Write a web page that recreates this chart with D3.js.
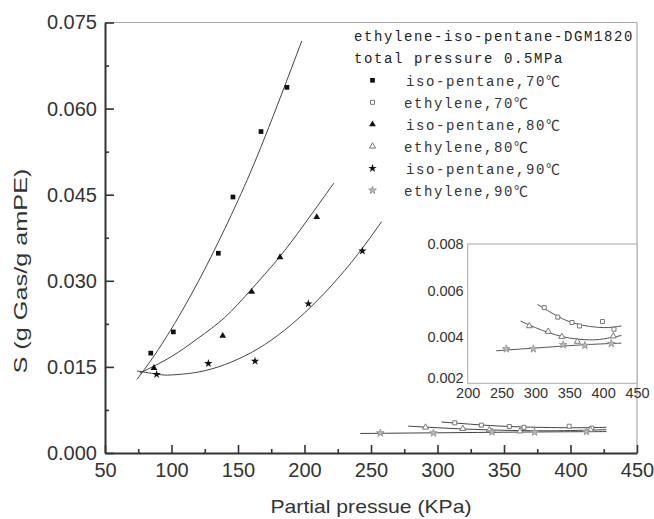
<!DOCTYPE html>
<html>
<head>
<meta charset="utf-8">
<script src="https://cdn.jsdelivr.net/npm/d3@7"></script>
<style>
  body { margin: 0; background: #fff; }
  svg { display: block; }
</style>
</head>
<body>
<svg id="chart" width="654" height="519"></svg>
<script>
// axis ticks
const xTicks = [50, 100, 150, 200, 250, 300, 350, 400, 450];
const xMinorTicks = [75, 125, 175, 225, 275, 325, 375, 425];
const yTicks = [0, 0.015, 0.030, 0.045, 0.060, 0.075];
const yMinorTicks = [0.0075, 0.0225, 0.0375, 0.0525, 0.0675];
const insetXTicks = [200, 250, 300, 350, 400, 450];
const insetYTicks = [0.002, 0.004, 0.006, 0.008];

// measured solubility [partial pressure KPa, S]
const isoPentane70 = [[84.4, 0.0174], [101.4, 0.0211], [135.2, 0.0348], [146.2, 0.0446], [167.3, 0.0560], [186.8, 0.0637]];
const isoPentane80 = [[86.8, 0.0148], [138.5, 0.0204], [160.3, 0.0281], [181.6, 0.0341], [209.2, 0.0411]];
const isoPentane90 = [[88.8, 0.0137], [127.7, 0.0156], [162.8, 0.0160], [202.9, 0.0260], [243.5, 0.0352]];
const ethylene70 = [[313, 0.00526], [333, 0.00485], [354, 0.00462], [365, 0.00447], [399, 0.00466], [416, 0.00433]];
const ethylene80 = [[291, 0.00447], [319, 0.00423], [339, 0.00401], [362, 0.00380], [415, 0.00403]];
const ethylene90 = [[257, 0.00348], [297, 0.00348], [341, 0.00366], [373, 0.00363], [412, 0.00371]];

// fitted trend lines
const fitIso70 = [[74, 0.0128], [90, 0.0180], [110, 0.0256], [130, 0.0343], [150, 0.0440], [170, 0.0549], [198, 0.0718]];
const fitIso80 = [[76, 0.0139], [100, 0.0168], [120, 0.0200], [140, 0.0236], [160, 0.0285], [180, 0.0338], [200, 0.0399], [222, 0.0470]];
const fitIso90 = [[74, 0.0143], [90, 0.0137], [100, 0.0136], [120, 0.0141], [140, 0.0154], [160, 0.0175], [180, 0.0205], [200, 0.0244], [220, 0.0291], [240, 0.0346], [258, 0.0403]];
const fitEth70 = [[303, 0.00540], [320, 0.00510], [340, 0.00478], [360, 0.00457], [380, 0.00445], [400, 0.00440], [415, 0.00442], [427, 0.00447]];
const fitEth80 = [[278, 0.00468], [300, 0.00440], [320, 0.00418], [340, 0.00401], [360, 0.00391], [380, 0.00387], [400, 0.00391], [427, 0.00406]];
const fitEth90 = [[242, 0.00340], [280, 0.00348], [320, 0.00356], [360, 0.00364], [400, 0.00370], [427, 0.00373]];

// legend
const legendTitle = ["ethylene-iso-pentane-DGM1820", "total pressure 0.5MPa"];
const legendLabels = ["iso-pentane,70℃", "ethylene,70℃", "iso-pentane,80℃", "ethylene,80℃", "iso-pentane,90℃", "ethylene,90℃"];

const svg = d3.select("#chart");
const x = d3.scaleLinear([50, 450], [105, 637]);
const y = d3.scaleLinear([0, 0.075], [453, 22.5]);
const ix = d3.scaleLinear([200, 450], [467.7, 637]);
const iy = d3.scaleLinear([0.002, 0.008], [383.3, 244]);

const sansFont = "'Liberation Sans', Arial, sans-serif";
const monoFont = "'Liberation Mono', 'DejaVu Sans Mono', 'Noto Sans CJK SC', monospace";

// marker styles per series
const styles = [
  { type: d3.symbolSquare, size: 22, fill: "#111", stroke: "none" },
  { type: d3.symbolSquare, size: 16, fill: "#fff", stroke: "#777" },
  { type: d3.symbolTriangle, size: 20, fill: "#111", stroke: "none" },
  { type: d3.symbolTriangle, size: 16, fill: "#fff", stroke: "#777" },
  { type: d3.symbolStar, size: 22, fill: "#111", stroke: "none" },
  { type: d3.symbolStar, size: 18, fill: "#bbb", stroke: "#999" }
];
const seriesData = [isoPentane70, ethylene70, isoPentane80, ethylene80, isoPentane90, ethylene90];
const fits = [fitIso70, fitEth70, fitIso80, fitEth80, fitIso90, fitEth90];

// frame (top & right)
svg.append("line").attr("x1", x(50)).attr("x2", x(450)).attr("y1", y(0.075)).attr("y2", y(0.075))
  .attr("stroke", "#aaa").attr("stroke-width", 1.2);
svg.append("line").attr("x1", x(450)).attr("x2", x(450)).attr("y1", y(0.075)).attr("y2", y(0))
  .attr("stroke", "#aaa").attr("stroke-width", 1.2);

// main axes
const gx = svg.append("g").attr("transform", `translate(0,${y(0)})`)
  .call(d3.axisBottom(x).tickValues(xTicks).tickSizeInner(-8).tickSizeOuter(0).tickPadding(10).tickFormat(d3.format("d")));
svg.append("g").attr("transform", `translate(0,${y(0)})`)
  .call(d3.axisBottom(x).tickValues(xMinorTicks).tickSizeInner(-4).tickSizeOuter(0).tickFormat(""))
  .call(g => g.select(".domain").remove());
const gy = svg.append("g").attr("transform", `translate(${x(50)},0)`)
  .call(d3.axisLeft(y).tickValues(yTicks).tickSizeInner(-9).tickSizeOuter(0).tickPadding(8).tickFormat(d3.format(".3f")));
svg.append("g").attr("transform", `translate(${x(50)},0)`)
  .call(d3.axisLeft(y).tickValues(yMinorTicks).tickSizeInner(-4).tickSizeOuter(0).tickFormat(""))
  .call(g => g.select(".domain").remove());

svg.selectAll(".domain").attr("stroke", "#333").attr("stroke-width", 2);
svg.selectAll(".tick line").attr("stroke", "#333").attr("stroke-width", 1.6);
[gx, gy].forEach(g => g.selectAll("text").attr("font-family", sansFont).attr("font-size", 20).attr("fill", "#333"));

// axis titles
svg.append("text").attr("x", (x(50) + x(450)) / 2).attr("y", 513)
  .attr("text-anchor", "middle").attr("font-family", sansFont).attr("font-size", 19).attr("fill", "#333")
  .attr("textLength", 201).attr("lengthAdjust", "spacingAndGlyphs")
  .text("Partial pressue (KPa)");
svg.append("text").attr("transform", "translate(27,271) rotate(-90)")
  .attr("text-anchor", "middle").attr("font-family", sansFont).attr("font-size", 19).attr("fill", "#333")
  .attr("textLength", 205).attr("lengthAdjust", "spacingAndGlyphs")
  .text("S (g Gas/g amPE)");

const line = (sx, sy) => d3.line().x(d => sx(d[0])).y(d => sy(d[1])).curve(d3.curveNatural);
const symbolPath = s => d3.symbol().type(s.type).size(s.size)();

function drawSeries(g, sx, sy) {
  fits.forEach(f => {
    g.append("path").attr("d", line(sx, sy)(f)).attr("fill", "none")
      .attr("stroke", "#444").attr("stroke-width", 1);
  });
  seriesData.forEach((data, i) => {
    const s = styles[i];
    g.selectAll(null).data(data).join("path")
      .attr("transform", d => `translate(${sx(d[0])},${sy(d[1])})`)
      .attr("d", symbolPath(s))
      .attr("fill", s.fill).attr("stroke", s.stroke);
  });
}

// main plot marks
drawSeries(svg.append("g"), x, y);

// legend
const legend = svg.append("g").attr("font-family", monoFont).attr("font-size", 14).attr("letter-spacing", 1.6);
legendTitle.forEach((t, i) => {
  legend.append("text").attr("x", 354).attr("y", 40.5 + i * 22.8).attr("fill", "#222").text(t);
});
legendLabels.forEach((t, i) => {
  const by = 85.8 + i * 22;
  legend.append("text").attr("x", i % 2 === 0 ? 406 : 404).attr("y", by).attr("fill", "#333").text(t);
  const s = styles[i];
  legend.append("path").attr("transform", `translate(372.5,${by - 5.5})`)
    .attr("d", symbolPath(s)).attr("fill", s.fill).attr("stroke", s.stroke);
});

// inset: ethylene detail
const inset = svg.append("g");
inset.append("rect").attr("x", ix(200)).attr("y", iy(0.008))
  .attr("width", ix(450) - ix(200)).attr("height", iy(0.002) - iy(0.008))
  .attr("fill", "#fff").attr("stroke", "#aaa").attr("stroke-width", 1);
const igx = inset.append("g").attr("transform", `translate(0,${iy(0.002)})`)
  .call(d3.axisBottom(ix).tickValues(insetXTicks).tickSize(0).tickPadding(4).tickFormat(d3.format("d")));
const igy = inset.append("g").attr("transform", `translate(${ix(200)},0)`)
  .call(d3.axisLeft(iy).tickValues(insetYTicks).tickSize(0).tickPadding(4).tickFormat(d3.format(".3f")));
[igx, igy].forEach(g => {
  g.select(".domain").remove();
  g.selectAll("text").attr("font-family", sansFont).attr("font-size", 14.5).attr("fill", "#333");
});
// keep the lowest y label clear of the first x label
igy.selectAll(".tick").filter(d => d === 0.002).select("text").attr("dy", "-0.05em");

const insetMarks = inset.append("g");
[[fitEth70, ethylene70, 1], [fitEth80, ethylene80, 3], [fitEth90, ethylene90, 5]].forEach(([f, data, si]) => {
  insetMarks.append("path").attr("d", line(ix, iy)(f)).attr("fill", "none")
    .attr("stroke", "#555").attr("stroke-width", 1);
  const s = styles[si];
  insetMarks.selectAll(null).data(data).join("path")
    .attr("transform", d => `translate(${ix(d[0])},${iy(d[1])})`)
    .attr("d", symbolPath(s)).attr("fill", s.fill).attr("stroke", s.stroke);
});
</script>
</body>
</html>
